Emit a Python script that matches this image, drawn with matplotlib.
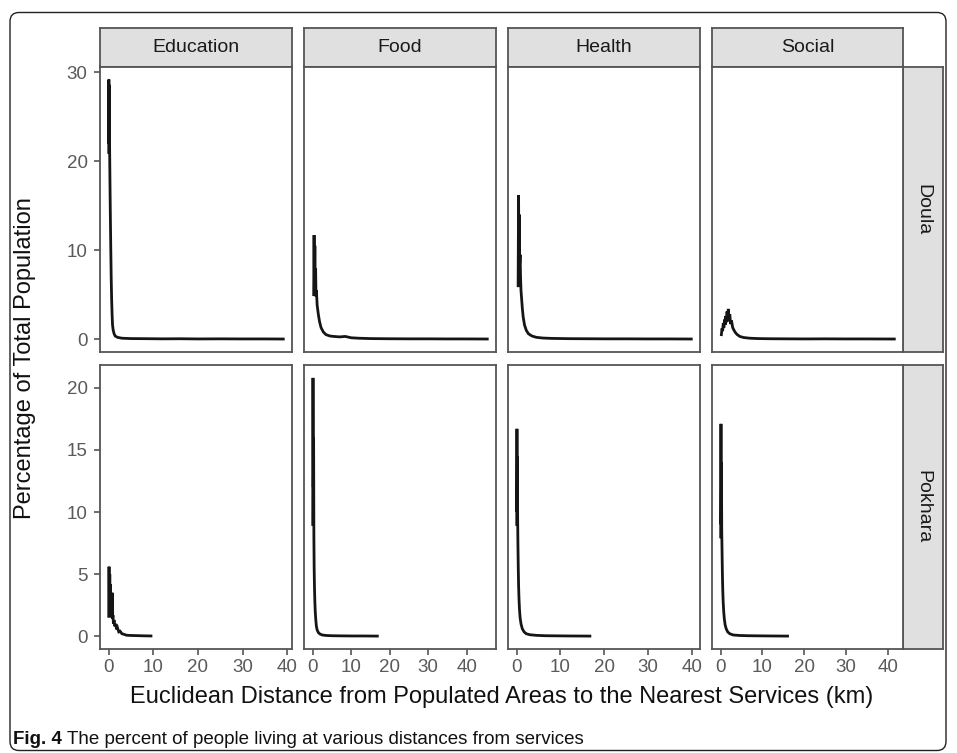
import matplotlib
matplotlib.use("Agg")
import matplotlib.pyplot as plt
from matplotlib import font_manager
from matplotlib.patches import FancyBboxPatch

W, H, DPI = 957, 753, 100

services = ["Education", "Food", "Health", "Social"]
cities = ["Doula", "Pokhara"]
x_ticks = [0, 10, 20, 30, 40]
y_ticks = {"Doula": [0, 10, 20, 30], "Pokhara": [0, 5, 10, 15, 20]}
x_title = "Euclidean Distance from Populated Areas to the Nearest Services (km)"
y_title = "Percentage of Total Population"
caption_bold = "Fig. 4"
caption_text = "The percent of people living at various distances from services"

# distance (km) / percentage of population
doula_education_km = [0.05, 0.08, 0.11, 0.14, 0.17, 0.20, 0.25, 0.32, 0.40, 0.50, 0.60, 0.70, 0.80, 0.90,
                      1.05, 1.25, 1.5, 2.0, 3, 5, 8, 12, 16, 20, 25, 30, 35, 39.1]
doula_education_pct = [21.0, 29.2, 22.0, 28.6, 23.0, 27.5, 21.5, 18.0, 14.5, 10.5, 7.0, 4.5, 2.8, 1.6,
                       1.0, 0.6, 0.35, 0.2, 0.1, 0.06, 0.05, 0.03, 0.04, 0.02, 0.03, 0.02, 0.02, 0.01]

doula_food_km = [0.3, 0.4, 0.5, 0.6, 0.7, 0.8, 0.9, 1.0, 1.2, 1.5, 1.8, 2.2, 2.8, 3.5, 4.5, 5.5, 7, 8.5,
                 10, 12, 15, 20, 25, 30, 35, 40, 45.3]
doula_food_pct = [5.0, 11.7, 6.0, 10.5, 5.5, 8.0, 4.8, 5.5, 3.8, 2.8, 2.0, 1.3, 0.8, 0.5, 0.35, 0.3, 0.25, 0.3,
                  0.15, 0.1, 0.06, 0.04, 0.03, 0.03, 0.02, 0.02, 0.01]

doula_health_km = [0.35, 0.45, 0.55, 0.62, 0.7, 0.8, 0.9, 1.0, 1.15, 1.3, 1.5, 1.8, 2.2, 2.7, 3.5, 4.5, 6, 8,
                   12, 16, 20, 25, 30, 35, 39.8]
doula_health_pct = [6.0, 16.2, 7.5, 14.0, 8.5, 9.5, 7.0, 5.5, 4.5, 3.5, 2.5, 1.6, 1.0, 0.6, 0.35, 0.2, 0.12, 0.08,
                    0.05, 0.04, 0.03, 0.03, 0.02, 0.02, 0.01]

doula_social_km = [0.2, 0.35, 0.5, 0.65, 0.8, 0.95, 1.1, 1.25, 1.4, 1.55, 1.7, 1.85, 2.0, 2.2, 2.4, 2.6, 2.9,
                   3.2, 3.6, 4.0, 4.6, 5.5, 7, 9, 12, 16, 20, 25, 30, 35, 41.5]
doula_social_pct = [0.5, 1.2, 0.9, 1.8, 1.3, 2.2, 1.6, 2.6, 1.9, 3.1, 2.2, 3.4, 2.0, 2.8, 1.7, 2.1, 1.3,
                    1.0, 0.7, 0.5, 0.3, 0.18, 0.1, 0.06, 0.04, 0.03, 0.02, 0.03, 0.02, 0.02, 0.01]

pokhara_education_km = [0.05, 0.12, 0.2, 0.28, 0.36, 0.45, 0.55, 0.65, 0.75, 0.82, 0.9, 1.0, 1.1, 1.25, 1.4,
                        1.6, 1.8, 2.0, 2.3, 2.6, 3.0, 3.5, 4.0, 5, 6, 7, 8, 9.5]
pokhara_education_pct = [1.6, 5.6, 2.0, 5.0, 2.2, 4.2, 1.8, 2.5, 1.5, 3.5, 1.4, 1.7, 1.0, 1.3, 0.8,
                         1.0, 0.55, 0.7, 0.35, 0.4, 0.2, 0.15, 0.08, 0.06, 0.05, 0.04, 0.03, 0.02]

pokhara_food_km = [0.05, 0.12, 0.2, 0.28, 0.35, 0.42, 0.5, 0.6, 0.7, 0.85, 1.0, 1.2, 1.5, 1.9, 2.5, 3.5, 5, 7,
                   10, 13, 16.8]
pokhara_food_pct = [9.0, 20.8, 12.0, 16.0, 8.0, 5.5, 4.0, 2.8, 2.0, 1.3, 0.8, 0.5, 0.3, 0.18, 0.1, 0.06, 0.04,
                    0.03, 0.02, 0.02, 0.01]

pokhara_health_km = [0.03, 0.08, 0.13, 0.18, 0.24, 0.3, 0.38, 0.46, 0.55, 0.65, 0.8, 1.0, 1.3, 1.7, 2.2, 3,
                     4.5, 6.5, 9, 12, 16.7]
pokhara_health_pct = [9.0, 16.7, 10.0, 14.5, 9.5, 7.5, 5.5, 4.0, 3.0, 2.2, 1.5, 1.0, 0.6, 0.35, 0.2, 0.12,
                      0.07, 0.04, 0.03, 0.02, 0.01]

pokhara_social_km = [0.03, 0.1, 0.16, 0.22, 0.28, 0.35, 0.43, 0.52, 0.62, 0.75, 0.9, 1.1, 1.35, 1.7, 2.2, 3,
                     4.5, 6.5, 9, 12, 16.0]
pokhara_social_pct = [8.0, 17.1, 9.0, 14.0, 8.5, 7.0, 5.2, 3.8, 2.8, 2.0, 1.4, 0.9, 0.6, 0.35, 0.2, 0.1,
                      0.06, 0.04, 0.03, 0.02, 0.01]

series = {
    ("Doula", "Education"): (doula_education_km, doula_education_pct),
    ("Doula", "Food"): (doula_food_km, doula_food_pct),
    ("Doula", "Health"): (doula_health_km, doula_health_pct),
    ("Doula", "Social"): (doula_social_km, doula_social_pct),
    ("Pokhara", "Education"): (pokhara_education_km, pokhara_education_pct),
    ("Pokhara", "Food"): (pokhara_food_km, pokhara_food_pct),
    ("Pokhara", "Health"): (pokhara_health_km, pokhara_health_pct),
    ("Pokhara", "Social"): (pokhara_social_km, pokhara_social_pct),
}

installed = {f.name for f in font_manager.fontManager.ttflist}
plt.rcParams["font.family"] = ["Liberation Sans", "DejaVu Sans"]
caption_font = "Liberation Sans Narrow" if "Liberation Sans Narrow" in installed else "Liberation Sans"

# panel geometry in pixels (facet_grid look)
col_px = [(100, 292), (304, 496), (508, 700), (712, 903)]
row_px = [(66.5, 352), (365, 649)]
strip_top = 28
strip_right = 943
BORDER = "#555555"
STRIP_FILL = "#E0E0E0"
TICK_COL = "#5A5A5A"


def px_axes(fig, x0, x1, y0, y1, **kw):
    return fig.add_axes([x0 / W, 1 - y1 / H, (x1 - x0) / W, (y1 - y0) / H], **kw)


def expanded(values, frac=0.05):
    lo, hi = min(values), max(values)
    pad = (hi - lo) * frac
    return lo - pad, hi + pad


def style_box(ax, lw=1.3):
    for s in ax.spines.values():
        s.set_color(BORDER)
        s.set_linewidth(lw)


fig = plt.figure(figsize=(W / DPI, H / DPI), dpi=DPI)

bg = fig.add_axes([0, 0, 1, 1], zorder=-1)
bg.set_xlim(0, W)
bg.set_ylim(H, 0)
bg.axis("off")
bg.add_patch(FancyBboxPatch((10, 12.5), 936, 738, boxstyle="round,pad=0,rounding_size=9",
                            fill=False, ec="#222222", lw=1.0))

xlims = [expanded([v for c in cities for v in series[(c, s)][0]]) for s in services]
ylims = [expanded([v for s in services for v in series[(c, s)][1]]) for c in cities]

for j, svc in enumerate(services):
    x0, x1 = col_px[j]
    st = px_axes(fig, x0, x1, strip_top, row_px[0][0])
    st.set_facecolor(STRIP_FILL)
    st.set_xticks([])
    st.set_yticks([])
    style_box(st)
    st.text(0.5, 0.5, svc, transform=st.transAxes, ha="center", va="center",
            fontsize=14, color="#1A1A1A")

for i, city in enumerate(cities):
    y0, y1 = row_px[i]
    sr = px_axes(fig, col_px[-1][1], strip_right, y0, y1)
    sr.set_facecolor(STRIP_FILL)
    sr.set_xticks([])
    sr.set_yticks([])
    style_box(sr)
    sr.text(0.5, 0.5, city, transform=sr.transAxes, ha="center", va="center",
            fontsize=14, color="#1A1A1A", rotation=-90)

    for j, svc in enumerate(services):
        x0, x1 = col_px[j]
        ax = px_axes(fig, x0, x1, y0, y1)
        km, pct = series[(city, svc)]
        ax.plot(km, pct, color="#151515", lw=2.0, solid_joinstyle="miter")
        ax.set_xlim(*xlims[j])
        ax.set_ylim(*ylims[i])
        style_box(ax)
        ax.set_xticks(x_ticks)
        ax.set_yticks(y_ticks[city])
        ax.tick_params(length=4, width=1.2, color=BORDER, labelsize=13.5,
                       labelcolor=TICK_COL, pad=5)
        if i != len(cities) - 1:
            ax.tick_params(axis="x", length=0, labelbottom=False)
        else:
            ax.tick_params(axis="x", pad=3.5)
        if j != 0:
            ax.tick_params(axis="y", length=0, labelleft=False)

panel_cx = (col_px[0][0] + col_px[-1][1]) / 2
panel_cy = (row_px[0][0] + row_px[-1][1]) / 2
bg.text(panel_cx, 697, x_title, ha="center", va="center", fontsize=17, color="#111111")
bg.text(25, panel_cy, y_title, ha="center", va="center", rotation=90, fontsize=17, color="#111111")

fig.canvas.draw()
cap = bg.text(13, 740, caption_bold, ha="left", va="center", fontsize=13.5,
              fontweight="bold", family=caption_font, color="#111111")
fig.canvas.draw()
bb = cap.get_window_extent(renderer=fig.canvas.get_renderer())
bg.text(bb.x1 + 5, 740, caption_text, ha="left", va="center", fontsize=13.5,
        family=caption_font, color="#111111")

fig.savefig("out.png", dpi=DPI)
